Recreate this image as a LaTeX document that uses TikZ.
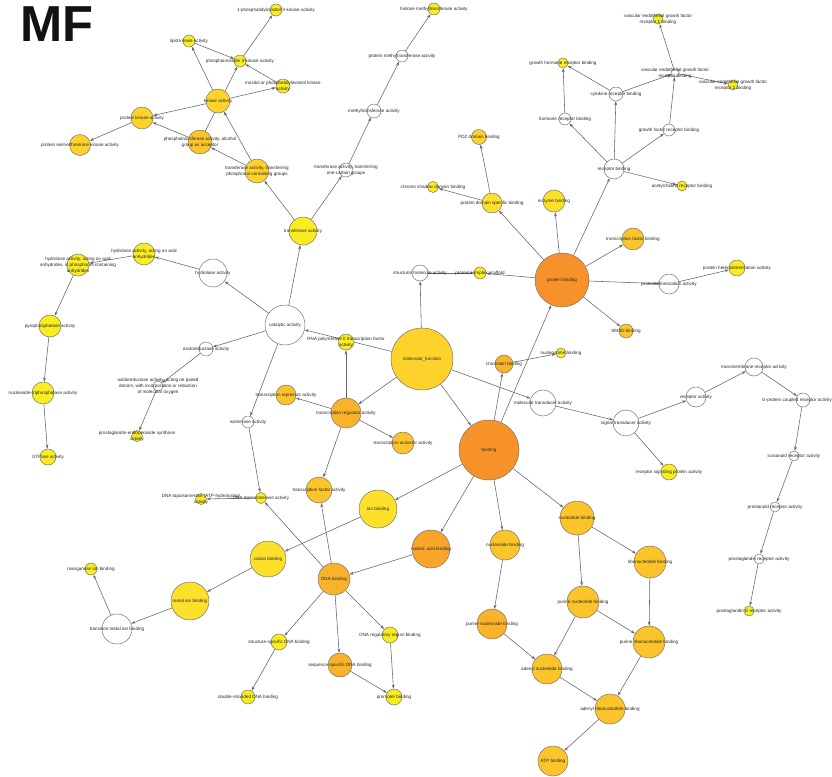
\documentclass[tikz,border=0pt]{standalone}
\usepackage{fontspec}
\setmainfont{Liberation Sans}
\usepackage{tikz}
\usetikzlibrary{arrows.meta}
\definecolor{goYellow}{HTML}{F9EC1F}
\definecolor{goLemon}{HTML}{FCE02A}
\definecolor{goGold}{HTML}{FCD22B}
\definecolor{goAmber}{HTML}{FBC42A}
\definecolor{goSaffron}{HTML}{F9B32A}
\definecolor{goTangerine}{HTML}{F8A52A}
\definecolor{goOrange}{HTML}{F7922A}
\pgfdeclarelayer{edges}
\pgfsetlayers{edges,main}

\tikzset{
  term/.style 2 args={circle, draw=black!55, line width=0.7pt, fill=#1,
    minimum size=#2*0.1cm, inner sep=0pt},
  lbl/.style={font=\fontsize{6.5}{8.5}\selectfont, text=black!85, align=center, inner sep=0pt},
  isa/.style={draw=black!60, line width=0.8pt, -{Stealth[length=6pt,width=4pt]}}
}

\begin{document}
\begin{tikzpicture}[x=0.05cm, y=-0.05cm]
  \useasboundingbox (0,0) rectangle (832,777);

  \node[font=\fontsize{72}{72}\selectfont\bfseries, text=black!93, anchor=base west, inner sep=0pt] (title) at (20,41) {MF};

  % kinase branch
  \node[term={goYellow}{6}, label={[lbl]center:lipid kinase activity}] (lipid) at (189,41) {};
  \node[term={goYellow}{6}, label={[lbl]center:phosphoinositide 3-kinase activity}] (pi3k) at (240,61) {};
  \node[term={goYellow}{6}, label={[lbl]center:1-phosphatidylinositol-3-kinase activity}] (pi3kone) at (276,10) {};
  \node[term={goYellow}{7}, label={[lbl]center:{inositol or phosphatidylinositol kinase\\activity}}] (inositol) at (283,86) {};
  \node[term={goGold}{12}, label={[lbl]center:kinase activity}] (kinase) at (218,101) {};
  \node[term={goGold}{11}, label={[lbl]center:protein kinase activity}] (protkin) at (142,118) {};
  \node[term={goGold}{10.5}, label={[lbl]center:protein serine/threonine kinase activity}] (serthr) at (80,145) {};
  \node[term={goAmber}{12}, label={[lbl]center:{phosphotransferase activity, alcohol\\group as acceptor}}] (phosalc) at (200,142) {};
  \node[term={goGold}{12}, label={[lbl]center:{transferase activity, transferring\\phosphorus-containing groups}}] (transphos) at (257,171) {};
  \node[term={goYellow}{14}, label={[lbl]center:transferase activity}] (transferase) at (303,231) {};

  % methyltransferase branch
  \node[term={goYellow}{6}, label={[lbl]center:histone methyltransferase activity}] (histone) at (434,9) {};
  \node[term={white}{6}, label={[lbl]center:protein methyltransferase activity}] (protmeth) at (402,56) {};
  \node[term={white}{7}, label={[lbl]center:methyltransferase activity}] (meth) at (374,111) {};
  \node[term={white}{7}, label={[lbl]center:{transferase activity, transferring\\one-carbon groups}}] (onecarb) at (346,170) {};

  % receptor binding branch
  \node[term={goGold}{7.5}, label={[lbl]center:PDZ domain binding}] (pdz) at (479,137) {};
  \node[term={goYellow}{5.5}, label={[lbl]center:chromo shadow domain binding}] (chromo) at (433,187) {};
  \node[term={goLemon}{10}, label={[lbl]center:protein domain specific binding}] (domspec) at (492,203) {};
  \node[term={goYellow}{5}, label={[lbl]center:{vascular endothelial growth factor\\receptor 1 binding}}] (vegfone) at (658,19) {};
  \node[term={goYellow}{5}, label={[lbl]center:growth hormone receptor binding}] (ghr) at (563,63) {};
  \node[term={white}{4}, label={[lbl]center:{vascular endothelial growth factor\\receptor binding}}] (vegf) at (675,73) {};
  \node[term={goYellow}{5}, label={[lbl]center:{vascular endothelial growth factor\\receptor 2 binding}}] (vegftwo) at (733,85) {};
  \node[term={white}{7}, label={[lbl]center:cytokine receptor binding}] (cytokine) at (616,94) {};
  \node[term={white}{6}, label={[lbl]center:hormone receptor binding}] (hormone) at (565,119) {};
  \node[term={white}{6}, label={[lbl]center:growth factor receptor binding}] (growthf) at (669,130) {};
  \node[term={white}{10}, label={[lbl]center:receptor binding}] (receptorb) at (614,169) {};
  \node[term={goYellow}{5}, label={[lbl]center:acetylcholine receptor binding}] (acetyl) at (682,186) {};
  \node[term={goLemon}{11}, label={[lbl]center:enzyme binding}] (enzyme) at (554,201) {};

  % hydrolase and oxidoreductase branch
  \node[term={goYellow}{11}, label={[lbl]center:{hydrolase activity, acting on acid\\anhydrides}}] (anhyd) at (144,254) {};
  \node[term={goYellow}{11}, label={[lbl]center:{hydrolase activity, acting on acid\\anhydrides, in phosphorus-containing\\anhydrides}}] (phosanhyd) at (78,265) {};
  \node[term={white}{14}, label={[lbl]center:hydrolase activity}] (hydrolase) at (213,273) {};
  \node[term={white}{20}, label={[lbl]center:catalytic activity}] (catalytic) at (285,325) {};
  \node[term={goYellow}{11}, label={[lbl]center:pyrophosphatase activity}] (pyro) at (50,326) {};
  \node[term={white}{7}, label={[lbl]center:oxidoreductase activity}] (oxido) at (206,349) {};
  \node[term={white}{5}, label={[lbl]center:{oxidoreductase activity, acting on paired\\donors, with incorporation or reduction\\of molecular oxygen}}] (paired) at (158,386) {};
  \node[term={goYellow}{11}, label={[lbl]center:nucleoside-triphosphatase activity}] (ntpase) at (43,393) {};
  \node[term={goYellow}{8}, label={[lbl]center:GTPase activity}] (gtpase) at (48,457) {};
  \node[term={goYellow}{5.5}, label={[lbl]center:{prostaglandin-endoperoxide synthase\\activity}}] (prostsyn) at (137,436) {};
  \node[term={white}{6}, label={[lbl]center:isomerase activity}] (isomerase) at (248,422) {};
  \node[term={goYellow}{5.5}, label={[lbl]center:DNA topoisomerase activity}] (topo) at (261,498) {};
  \node[term={goYellow}{5.5}, label={[lbl]center:{DNA topoisomerase (ATP-hydrolyzing)\\activity}}] (topoatp) at (201,499) {};

  % ion binding branch
  \node[term={goLemon}{18}, label={[lbl]center:cation binding}] (cation) at (268,559) {};
  \node[term={goYellow}{6}, label={[lbl]center:manganese ion binding}] (manganese) at (91,569) {};
  \node[term={goLemon}{19}, label={[lbl]center:metal ion binding}] (metal) at (190,601) {};
  \node[term={white}{15}, label={[lbl]center:transition metal ion binding}] (transmetal) at (117,629) {};
  \node[term={goLemon}{19}, label={[lbl]center:ion binding}] (ion) at (378,509) {};

  % centre
  \node[term={white}{8}, label={[lbl]center:structural molecule activity}] (structural) at (420,273) {};
  \node[term={goYellow}{6}, label={[lbl]center:protein complex scaffold}] (scaffold) at (480,273) {};
  \node[term={goOrange}{27}, label={[lbl]center:protein binding}] (protbind) at (562,280) {};
  \node[term={goGold}{31}, label={[lbl]center:molecular\_function}] (molfun) at (422,359) {};
  \node[term={goYellow}{8}, label={[lbl]center:{RNA polymerase II transcription factor\\activity}}] (rnapol) at (346,342) {};
  \node[term={goSaffron}{9}, label={[lbl]center:chromatin binding}] (chromatin) at (504,364) {};
  \node[term={goYellow}{5}, label={[lbl]center:nucleosome binding}] (nucleosome) at (561,353) {};
  \node[term={goAmber}{11}, label={[lbl]center:transcription factor binding}] (tfbind) at (633,239) {};
  \node[term={goYellow}{8}, label={[lbl]center:protein heterodimerization activity}] (heterodim) at (737,268) {};
  \node[term={white}{10}, label={[lbl]center:protein dimerization activity}] (dimer) at (669,284) {};
  \node[term={goAmber}{7}, label={[lbl]center:SMAD binding}] (smad) at (626,331) {};
  \node[term={goOrange}{30}, label={[lbl]center:binding}] (binding) at (489,450) {};

  % signal transduction branch
  \node[term={white}{9}, label={[lbl]center:transmembrane receptor activity}] (transmem) at (754,367) {};
  \node[term={white}{13}, label={[lbl]center:molecular transducer activity}] (moltrans) at (543,403) {};
  \node[term={white}{13}, label={[lbl]center:signal transducer activity}] (sigtrans) at (626,423) {};
  \node[term={white}{10}, label={[lbl]center:receptor activity}] (receptor) at (696,397) {};
  \node[term={goYellow}{8}, label={[lbl]center:receptor signaling protein activity}] (recsig) at (669,472) {};
  \node[term={white}{7}, label={[lbl,xshift=-0.3cm]center:G-protein coupled receptor activity}] (gpcr) at (803,400) {};
  \node[term={white}{5}, label={[lbl]center:icosanoid receptor activity}] (icos) at (794,456) {};
  \node[term={white}{5}, label={[lbl]center:prostanoid receptor activity}] (prostanoid) at (775,507) {};
  \node[term={white}{5}, label={[lbl]center:prostaglandin receptor activity}] (prostrec) at (759,559) {};
  \node[term={goYellow}{5}, label={[lbl]center:prostaglandin E receptor activity}] (prostE) at (749,611) {};

  % transcription branch
  \node[term={goAmber}{10}, label={[lbl]center:transcription repressor activity}] (repressor) at (286,395) {};
  \node[term={goSaffron}{15}, label={[lbl]center:transcription regulator activity}] (regulator) at (346,413) {};
  \node[term={goAmber}{11}, label={[lbl]center:transcription activator activity}] (activator) at (403,443) {};
  \node[term={goAmber}{13}, label={[lbl]center:transcription factor activity}] (tfact) at (319,490) {};

  % nucleic acid branch
  \node[term={goTangerine}{19}, label={[lbl]center:nucleic acid binding}] (nucacid) at (431,549) {};
  \node[term={goSaffron}{16}, label={[lbl]center:DNA binding}] (dnabind) at (334,579) {};
  \node[term={goYellow}{8}, label={[lbl]center:structure-specific DNA binding}] (structdna) at (279,642) {};
  \node[term={goYellow}{7}, label={[lbl]center:double-stranded DNA binding}] (dsdna) at (248,697) {};
  \node[term={goYellow}{8}, label={[lbl]center:DNA regulatory region binding}] (dnareg) at (390,635) {};
  \node[term={goSaffron}{12}, label={[lbl]center:sequence-specific DNA binding}] (seqspec) at (340,665) {};
  \node[term={goYellow}{8}, label={[lbl]center:promoter binding}] (promoter) at (394,697) {};

  % nucleotide branch
  \node[term={goAmber}{15}, label={[lbl]center:nucleoside binding}] (nucleoside) at (505,545) {};
  \node[term={goSaffron}{15}, label={[lbl]center:purine nucleoside binding}] (purnucs) at (492,624) {};
  \node[term={goAmber}{17}, label={[lbl]center:nucleotide binding}] (nucleotide) at (577,518) {};
  \node[term={goAmber}{16}, label={[lbl]center:ribonucleotide binding}] (ribonuc) at (650,562) {};
  \node[term={goAmber}{16}, label={[lbl]center:purine nucleotide binding}] (purnuc) at (583,602) {};
  \node[term={goAmber}{16}, label={[lbl]center:purine ribonucleotide binding}] (purribo) at (649,642) {};
  \node[term={goAmber}{15}, label={[lbl]center:adenyl nucleotide binding}] (adenyl) at (547,669) {};
  \node[term={goAmber}{15}, label={[lbl]center:adenyl ribonucleotide binding}] (adenylribo) at (610,709) {};
  \node[term={goAmber}{15}, label={[lbl]center:ATP binding}] (atp) at (553,761) {};

  \begin{pgfonlayer}{edges}
    \fill[white] (0,0) rectangle (832,777);
    \foreach \a/\b in {kinase/lipid, lipid/pi3k, phosalc/pi3k, pi3k/pi3kone, inositol/pi3k,
        kinase/inositol, kinase/protkin, protkin/serthr, phosalc/protkin, transphos/kinase,
        transphos/phosalc, transferase/transphos, transferase/onecarb, onecarb/meth,
        meth/protmeth, protmeth/histone, domspec/pdz, domspec/chromo, protbind/domspec,
        receptorb/hormone, hormone/ghr, cytokine/ghr, receptorb/cytokine, cytokine/vegf,
        receptorb/growthf, growthf/vegf, vegf/vegfone, vegf/vegftwo, receptorb/acetyl,
        protbind/receptorb, catalytic/hydrolase, hydrolase/anhyd, anhyd/phosanhyd,
        phosanhyd/pyro, pyro/ntpase, ntpase/gtpase, catalytic/oxido, oxido/paired,
        paired/prostsyn, catalytic/transferase, catalytic/isomerase, isomerase/topo,
        topo/topoatp, dnabind/topo, molfun/catalytic, regulator/rnapol, molfun/structural,
        structural/scaffold, protbind/scaffold, binding/protbind, molfun/binding,
        molfun/regulator, molfun/moltrans, binding/chromatin, chromatin/nucleosome,
        protbind/enzyme, protbind/tfbind, protbind/dimer, dimer/heterodim, protbind/smad,
        moltrans/sigtrans, sigtrans/receptor, receptor/transmem, transmem/gpcr, gpcr/icos,
        icos/prostanoid, prostanoid/prostrec, prostrec/prostE, sigtrans/recsig,
        binding/nucleotide, nucleotide/ribonuc, nucleotide/purnuc, ribonuc/purribo,
        purnuc/purribo, purnuc/adenyl, purribo/adenylribo, adenyl/adenylribo,
        adenylribo/atp, purnucs/adenyl, nucleoside/purnucs, binding/nucleoside,
        binding/nucacid, binding/ion, ion/cation, cation/metal, metal/transmetal,
        transmetal/manganese, nucacid/dnabind, regulator/repressor, regulator/activator,
        regulator/tfact, dnabind/tfact, dnabind/structdna, structdna/dsdna,
        dnabind/seqspec, dnabind/dnareg, dnareg/promoter, seqspec/promoter}
      \draw[isa] (\a) -- (\b);
  \end{pgfonlayer}
\end{tikzpicture}
\end{document}
